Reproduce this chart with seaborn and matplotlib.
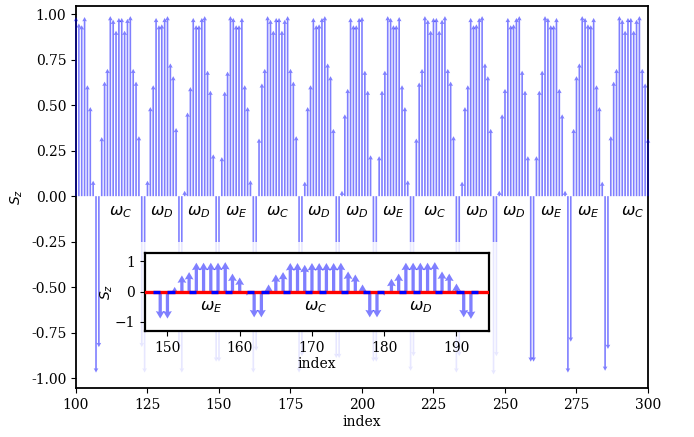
import numpy as np
import seaborn as sns
import matplotlib
matplotlib.use('Agg')
import matplotlib.pyplot as plt
from matplotlib.patches import Rectangle

# S_z profile along the chain, sites 100..300
site = np.arange(100, 301)
sz = [0.985, 0.95, 0.94, 0.985, 0.61, 0.49, 0.085, -0.97, -0.83, 0.325,
      0.63, 0.70, 0.99, 0.97, 0.91, 0.98, 0.98, 0.91, 0.975, 0.99,
      0.70, 0.63, 0.33, -0.83, -0.97, 0.085, 0.49, 0.61, 0.98, 0.94,
      0.945, 0.98, 0.99, 0.73, 0.66, 0.375, -0.84, -0.97, 0.03, 0.46,
      0.60, 0.98, 0.94, 0.94, 0.98, 0.99, 0.69, 0.58, 0.23, -0.91,
      -0.91, 0.215, 0.575, 0.685, 0.99, 0.98, 0.94, 0.94, 0.98, 0.61,
      0.49, 0.087, -0.97, -0.85, 0.317, 0.62, 0.70, 0.99, 0.97, 0.91,
      0.98, 0.98, 0.91, 0.97, 0.99, 0.70, 0.63, 0.33, -0.97, -0.88,
      0.08, 0.49, 0.61, 0.98, 0.94, 0.945, 0.98, 0.99, 0.73, 0.66,
      0.37, -0.89, -0.89, 0.03, 0.45, 0.59, 0.98, 0.94, 0.94, 0.98,
      0.985, 0.69, 0.58, 0.225, -0.91, -0.91, 0.22, 0.58, 0.69, 0.99,
      0.98, 0.94, 0.94, 0.985, 0.61, 0.49, 0.087, -0.96, -0.88, 0.317,
      0.625, 0.70, 0.99, 0.97, 0.91, 0.98, 0.98, 0.91, 0.97, 0.99,
      0.70, 0.63, 0.33, -0.97, -0.88, 0.08, 0.49, 0.61, 0.98, 0.94,
      0.945, 0.98, 0.99, 0.73, 0.66, 0.37, -0.98, -0.88, 0.03, 0.45,
      0.59, 0.98, 0.94, 0.945, 0.98, 0.99, 0.69, 0.58, 0.22, -0.91,
      -0.91, 0.22, 0.58, 0.69, 0.99, 0.98, 0.94, 0.94, 0.98, 0.59,
      0.45, 0.03, -0.97, -0.80, 0.37, 0.66, 0.73, 0.99, 0.98, 0.945,
      0.94, 0.98, 0.61, 0.49, 0.08, -0.96, -0.84, 0.33, 0.63, 0.70,
      0.99, 0.97, 0.91, 0.98, 0.98, 0.91, 0.97, 0.99, 0.70, 0.62,
      0.317]

# domains between the flipped pairs
dom_name = ['C', 'D', 'D', 'E', 'C', 'D', 'D', 'E', 'C', 'D', 'D', 'E', 'E', 'C']
dom_start = [109, 125, 138, 151, 164, 180, 193, 206, 219, 235, 248, 261, 274, 287]
dom_end = [122, 135, 148, 161, 177, 190, 203, 216, 232, 245, 258, 271, 284, 302]

# zoomed snapshot, sites 149..192
inset_site = np.arange(149, 193)
inset_sz = [-0.89, -0.89, 0.16, 0.54, 0.65, 0.96, 0.96, 0.96, 0.96, 0.98,
            0.60, 0.47, -0.13, -0.85, -0.85, 0.24, 0.57, 0.65, 0.95, 0.95,
            0.89, 0.95, 0.95, 0.95, 0.95, 0.96, 0.67, 0.57, 0.24, -0.85,
            -0.85, -0.13, 0.43, 0.60, 0.96, 0.96, 0.96, 0.96, 0.98, 0.67,
            0.60, 0.27, -0.85, -0.90]
# weak bonds (blue) along the inset chain
blue_bonds = [148, 150, 153, 156, 158, 161, 163, 166, 169, 171, 174, 177,
              179, 182, 184, 187, 190, 192]

sns.set_style('ticks', rc={'axes.edgecolor': 'black', 'xtick.color': 'black',
                           'ytick.color': 'black', 'text.color': 'black',
                           'axes.labelcolor': 'black'})
plt.rcParams['font.family'] = ['DejaVu Serif']
plt.rcParams['mathtext.fontset'] = 'dejavusans'
plt.rcParams['font.size'] = 10

fig = plt.figure(figsize=(6.94, 4.37), dpi=100)
ax = fig.add_axes([0.1095, 0.112, 0.8242, 0.874])

ax.quiver(site, np.zeros(len(site)), np.zeros(len(site)), sz,
          angles='xy', scale_units='xy', scale=1,
          width=0.0029, headwidth=2.8, headlength=2.6, headaxislength=2.4,
          color='blue', alpha=0.5, zorder=3, clip_on=False)

for name, a, b in zip(dom_name, dom_start, dom_end):
    ax.text((a + b) / 2, -0.085, r'$\omega_%s$' % name, ha='center',
            va='center', fontsize=11.5)

# pale veil behind the inset
ax.add_patch(Rectangle((105 / 694, 1 - 390 / 437), 400 / 694, 148 / 437,
                       transform=fig.transFigure, facecolor='white',
                       edgecolor='none', alpha=0.82, zorder=4))

ax.set_xlim(100, 300)
ax.set_ylim(-1.055, 1.045)
ax.set_xticks(np.arange(100, 301, 25))
ax.set_yticks(np.arange(-1, 1.01, 0.25))
ax.yaxis.set_major_formatter(matplotlib.ticker.FormatStrFormatter('%.2f'))
ax.set_xlabel('index', labelpad=2)
ax.set_ylabel(r'$S_z$')
for s in ax.spines.values():
    s.set_linewidth(1.3)
ax.spines['bottom'].set_zorder(5)

# inset
axin = fig.add_axes([0.209, 0.2426, 0.4956, 0.1784])
axin.quiver(inset_site, np.zeros(len(inset_site)), np.zeros(len(inset_site)),
            inset_sz, angles='xy', scale_units='xy', scale=1,
            width=0.0095, headwidth=2.7, headlength=2.3, headaxislength=2.1,
            color='blue', alpha=0.5, zorder=2)
axin.plot([146, 195], [0, 0], color='red', lw=2.4, solid_capstyle='butt',
          zorder=3)
axin.hlines(np.zeros(len(blue_bonds)), blue_bonds, np.array(blue_bonds) + 1,
            color='blue', lw=2.4, zorder=4)
for name, a, b in zip(dom_name[3:6], dom_start[3:6], dom_end[3:6]):
    axin.text((a + b) / 2, -0.5, r'$\omega_%s$' % name, ha='center',
              va='center', fontsize=11.5)
axin.set_xlim(146.9, 194.5)
axin.set_ylim(-1.3, 1.28)
axin.set_xticks(np.arange(150, 191, 10))
axin.set_yticks([-1, 0, 1])
axin.set_xlabel('index', labelpad=2)
axin.set_ylabel(r'$S_z$', labelpad=0)
for s in axin.spines.values():
    s.set_linewidth(1.6)

fig.savefig('out.png', dpi=100)
